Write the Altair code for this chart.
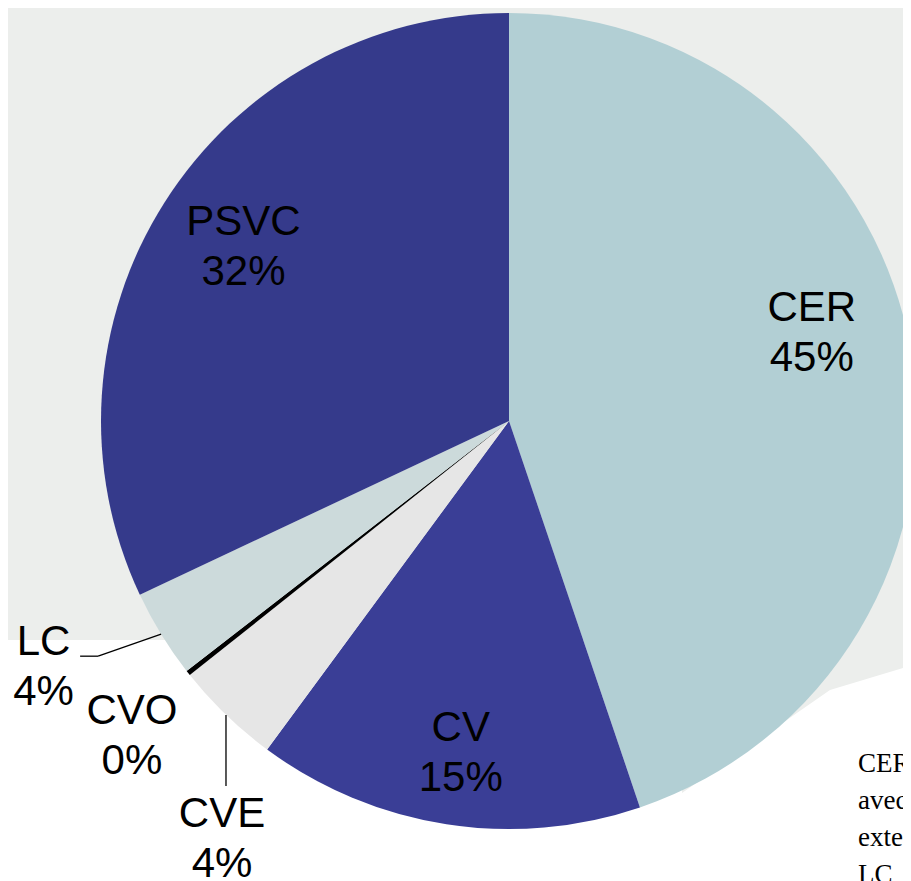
import altair as alt
import pandas as pd

# ---- data ----
categories = ["CER", "CV", "CVE", "CVO", "LC", "PSVC"]
values = [44.8, 15.3, 4.2, 0.2, 3.5, 32.0]
percent_labels = ["45%", "15%", "4%", "0%", "4%", "32%"]
colors = ["#b2cfd4", "#3a3e96", "#e6e6e6", "#000000", "#ccdadb", "#353a8b"]
side_text = ["CER", "avec", "exte", "LC"]

# ---- layout (pixels) ----
W, H = 895, 873
CX, CY, R = 501, 413, 408
BG = "#eceeec"
LABEL_FONT = "Liberation Sans"
# radius, dx, dy for each slice label
label_layout = {
    "CER": (316, -9, -62),
    "PSVC": (318, 3, -29),
    "CV": (334, 3, -23),
    "CVE": (506, 64, 29),
    "CVO": (491, 9, -13),
    "LC": (526, -17, -54),
}
# decorative slide background: white lower band and grey wedge (pixels)
wedge = pd.DataFrame({"wx": [674, 822, 895], "wy": [785, 682, 660]})

df = pd.DataFrame({
    "category": categories,
    "value": values,
    "order": list(range(len(categories))),
    "label": [f"{c}\n{p}" for c, p in zip(categories, percent_labels)],
})

band = alt.Chart(pd.DataFrame({"a": [0]})).mark_rect(color="white").encode(
    x=alt.value(0), x2=alt.value(W), y=alt.value(632), y2=alt.value(H)
)
wedge_area = alt.Chart(wedge).mark_area(color=BG, orient="vertical").encode(
    x=alt.X("wx:Q", scale=None), y=alt.Y("wy:Q", scale=None), y2=alt.value(H)
)

base = alt.Chart(df).encode(
    theta=alt.Theta("value:Q", stack=True),
    order=alt.Order("order:Q"),
    x=alt.value(CX),
    y=alt.value(CY),
)

pie = base.mark_arc(outerRadius=R, strokeWidth=0).encode(
    color=alt.Color("category:N",
                    scale=alt.Scale(domain=categories, range=colors),
                    legend=None)
)

labels = []
for c, (r, dx, dy) in label_layout.items():
    labels.append(
        base.transform_calculate(t=f"datum.category === '{c}' ? datum.label : ''")
        .mark_text(radius=r, dx=dx, dy=dy, font=LABEL_FONT, fontSize=42,
                   lineHeight=50, lineBreak="\n", align="center",
                   baseline="middle", color="black")
        .encode(text="t:N")
    )

# leader lines starting at slice middle on the rim
lead_base = (
    alt.Chart(df)
    .transform_window(cum="sum(value)", sort=[alt.SortField("order")])
    .transform_joinaggregate(total="sum(value)")
    .transform_calculate(mid="2*PI*(datum.cum - datum.value/2)/datum.total")
    .transform_calculate(px=f"{CX} + {R}*sin(datum.mid)",
                         py=f"{CY} - {R}*cos(datum.mid)")
)

def seg(cat, ax, ay, bx, by):
    return (
        lead_base.transform_filter(f"datum.category === '{cat}'")
        .transform_calculate(ax=ax, ay=ay, bx=bx, by=by)
        .mark_rule(color="black", strokeWidth=1.3)
        .encode(x=alt.X("ax:Q", scale=None), y=alt.Y("ay:Q", scale=None),
                x2="bx:Q", y2="by:Q")
    )

leaders = [
    seg("LC", "datum.px", "datum.py", "datum.px - 63", "datum.py + 22"),
    seg("LC", "datum.px - 63", "datum.py + 22", "datum.px - 81", "datum.py + 22"),
    seg("CVE", "datum.px", "datum.py", "datum.px", "datum.py + 71"),
]

side = alt.Chart(pd.DataFrame({"txt": ["\n".join(side_text)]})).mark_text(
    align="left", baseline="alphabetic", font="Liberation Serif", fontSize=27,
    lineHeight=37, lineBreak="\n", color="black"
).encode(x=alt.value(850), y=alt.value(764), text="txt:N")

chart = alt.layer(band, wedge_area, pie, *labels, *leaders, side).properties(
    width=W, height=H, padding=0,
    autosize=alt.AutoSizeParams(type="none"),
).configure(background=BG).configure_view(strokeWidth=0)

chart.save("out.html", embed_options={"renderer": "svg", "actions": False})
